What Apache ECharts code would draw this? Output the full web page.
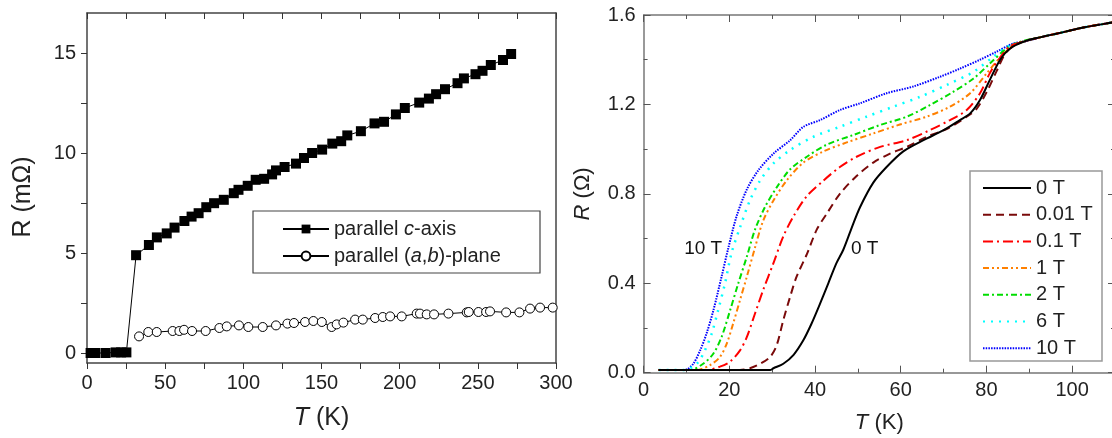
<!DOCTYPE html>
<html>
<head>
<meta charset="utf-8">
<script src="https://cdn.jsdelivr.net/npm/echarts@6/dist/echarts.min.js"></script>
<style>
html,body{margin:0;padding:0;background:#fff;}
#chart{width:1112px;height:438px;}
</style>
</head>
<body>
<div id="chart"></div>
<script>
// ---------- Left panel data: R (mΩ) vs T (K) ----------
const cAxisT = [2.3,5.3,11.9,18.3,21.8,25.2,31.4,39.6,44.7,51,56,62.3,66.9,71.4,76.3,81.3,87.5,93.9,96.9,102.8,107.9,113.3,118.4,120.9,126.4,133.7,138.8,144,150.4,156.9,162.6,166.5,175.2,183.9,190,197.6,203.3,212.5,218.7,223.3,229,237,241.1,248.5,253,258.3,266.1,271.3];
const cAxisR = [0,0,0,0.03,0.03,0.03,4.89,5.4,5.78,5.98,6.27,6.6,6.82,6.99,7.29,7.49,7.66,7.99,8.16,8.36,8.66,8.71,8.93,9.13,9.30,9.47,9.75,10.0,10.17,10.47,10.59,10.88,11.09,11.48,11.56,11.93,12.25,12.52,12.72,12.94,13.19,13.49,13.73,13.94,14.11,14.4,14.65,14.95];
const abPlaneT = [33.3,39.2,44.6,54.8,59.1,62.1,67.2,75.9,84.7,89.4,97.2,103.2,112.4,120.9,128.2,132.4,139.5,144.8,150.2,156.5,159.7,164,171.5,176.4,184.3,189.2,193.9,201.3,210.9,213,217.3,222,231.2,242.9,244.2,250.4,255.3,257.8,268.1,276.6,283.4,289.8,297.9];
const abPlaneR = [0.83,1.05,1.05,1.10,1.10,1.16,1.10,1.10,1.25,1.33,1.38,1.30,1.30,1.38,1.47,1.50,1.55,1.60,1.55,1.30,1.43,1.52,1.67,1.67,1.75,1.80,1.83,1.83,1.97,1.97,1.93,1.93,1.97,2.03,2.05,2.05,2.05,2.08,2.03,2.03,2.22,2.27,2.27];
const leftNames = ['parallel c-axis','parallel (a,b)-plane'];
const leftYLabels = [0,5,10,15];
const leftYTicks = [0,2.5,5,7.5,10,12.5,15];

// ---------- Right panel data: R (Ω) vs T (K), [T, R] ----------
const field0T = [[3.5,0.012],[10,0.012],[20,0.012],[29.5,0.012],[30.3,0.02],[32.6,0.04],[35,0.08],[37.3,0.146],[39.2,0.22],[41.2,0.31],[43.1,0.40],[45,0.49],[46.6,0.55],[48.6,0.65],[50.5,0.74],[53.6,0.85],[56.7,0.92],[60.6,0.99],[65.3,1.04],[70,1.085],[73.8,1.13],[76.2,1.16],[78.5,1.22],[80.8,1.31],[83.2,1.40],[85.5,1.45],[88.6,1.48],[92.5,1.50],[97.2,1.52],[102.6,1.544],[108.9,1.565],[110,1.568]];
const field001T = [[3.5,0.012],[15,0.012],[22.5,0.012],[24.8,0.02],[27.2,0.04],[29.5,0.07],[31,0.12],[32.6,0.235],[34.2,0.34],[35.7,0.43],[38.1,0.53],[40.4,0.64],[42.7,0.71],[45.8,0.80],[49.7,0.88],[53.6,0.94],[57.5,0.98],[61.4,1.01],[66,1.055],[70.7,1.09],[75.4,1.145],[77.7,1.18],[80.1,1.257],[82.4,1.35],[84.7,1.435],[87.8,1.476],[92.5,1.50],[97.2,1.52],[102.6,1.544],[108.9,1.565],[110,1.568]];
const field01T = [[3.5,0.012],[10,0.012],[14.7,0.012],[17.8,0.027],[20.2,0.05],[22.5,0.10],[24.1,0.16],[26,0.265],[27.9,0.37],[30.3,0.49],[32.6,0.61],[35,0.70],[38.1,0.79],[42,0.86],[45.8,0.92],[49.7,0.966],[55.2,1.01],[61.4,1.04],[66.8,1.085],[71.5,1.13],[75.4,1.175],[78.5,1.25],[80.8,1.34],[83.2,1.41],[85.5,1.46],[88.6,1.48],[92.5,1.50],[97.2,1.52],[102.6,1.544],[108.9,1.565],[110,1.568]];
const field1T = [[3.5,0.012],[9,0.012],[12.4,0.012],[15.5,0.034],[17.8,0.07],[19.4,0.13],[20.9,0.22],[22.5,0.325],[24.1,0.43],[26,0.56],[27.9,0.68],[30.3,0.77],[33.4,0.86],[37.3,0.94],[42,0.99],[47.4,1.03],[53.6,1.07],[59.8,1.11],[66,1.145],[71.5,1.19],[76.2,1.25],[80.1,1.34],[83.2,1.41],[86.3,1.465],[88.6,1.48],[92.5,1.50],[97.2,1.52],[102.6,1.544],[108.9,1.565],[110,1.568]];
const field2T = [[3.5,0.012],[8,0.012],[10.8,0.012],[13.9,0.04],[16.3,0.086],[18.2,0.16],[20.2,0.28],[22.1,0.40],[24.1,0.52],[26,0.64],[28.3,0.74],[31.1,0.83],[34.2,0.91],[38.1,0.966],[42.7,1.02],[48.9,1.063],[55.2,1.108],[61.4,1.145],[66.8,1.197],[72.3,1.257],[77,1.316],[80.8,1.383],[84.7,1.45],[87.8,1.48],[92.5,1.50],[97.2,1.52],[102.6,1.544],[108.9,1.565],[110,1.568]];
const field6T = [[3.5,0.012],[7,0.012],[9.3,0.012],[12.4,0.04],[14.3,0.10],[15.9,0.176],[17.4,0.28],[19,0.40],[20.5,0.534],[22.5,0.65],[24.8,0.77],[27.2,0.86],[30.3,0.936],[34.2,0.996],[39.6,1.055],[45.8,1.10],[52,1.145],[58.3,1.19],[64.5,1.234],[70.7,1.287],[77,1.346],[81.6,1.413],[85.5,1.465],[88.6,1.48],[92.5,1.50],[97.2,1.52],[102.6,1.544],[108.9,1.565],[110,1.568]];
const field10T = [[3.5,0.012],[8.5,0.012],[10,0.014],[11.6,0.04],[13.2,0.10],[14.7,0.176],[16.3,0.28],[18.2,0.43],[19.8,0.56],[21.7,0.70],[24.1,0.82],[26.8,0.906],[30.3,0.98],[34.2,1.04],[37.3,1.10],[41.2,1.13],[45.8,1.175],[50.5,1.205],[56.7,1.25],[62.9,1.28],[69.2,1.324],[73.8,1.36],[78.5,1.40],[82.4,1.436],[86.3,1.473],[88.6,1.48],[92.5,1.50],[97.2,1.52],[102.6,1.544],[108.9,1.565],[110,1.568]];
const fieldNames = ['0 T','0.01 T','0.1 T','1 T','2 T','6 T','10 T'];
const fieldData = [field0T, field001T, field01T, field1T, field2T, field6T, field10T];
const curveLabels = [{T:13.9, R:0.556, text:'10 T'},{T:51.6, R:0.556, text:'0 T'}];
const rightXLabels = [0,20,40,60,80,100];

// ---------- styles ----------
const FONT = '"Liberation Sans", Arial, sans-serif';
const fieldStyles = [
  {color:'#000000', width:2, type:'solid'},
  {color:'#7a0a0a', width:2, type:[8,5]},
  {color:'#ff0000', width:2, type:[10,4,2,4]},
  {color:'#ff8000', width:2, type:[6,3,2,3,2,3]},
  {color:'#00dd00', width:2, type:[6,3,2,3]},
  {color:'#00ffff', width:2.5, type:[2,6]},
  {color:'#0000ff', width:2, type:[1.5,1.2]}
];

const zip = (a, b) => a.map((v, i) => [v, b[i]]);

const frameL = {color:'#444', width:1.5};
const frameR = {color:'#777', width:1.5};

const option = {
  animation: false,
  backgroundColor: '#fff',
  textStyle: {fontFamily: FONT},
  grid: [
    {left: 87, top: 13, width: 469, height: 350, outerBoundsMode: 'none', containLabel: false},
    {left: 643.6, top: 15, width: 471.4, height: 357.7, outerBoundsMode: 'none', containLabel: false}
  ],
  xAxis: [
    {gridIndex:0, type:'value', min:0, max:300, interval:50, position:'bottom',
     axisLine:{onZero:false, lineStyle:frameL},
     axisTick:{inside:false, length:6, lineStyle:{color:'#333', width:1}},
     minorTick:{show:true, splitNumber:2, length:6, lineStyle:{color:'#333', width:1}},
     splitLine:{show:false},
     axisLabel:{margin:10, fontSize:20, color:'#222', fontFamily:FONT},
     name:'{i|T} (K)', nameLocation:'middle', nameGap:43,
     nameTextStyle:{fontSize:25, color:'#222', fontFamily:FONT, rich:{i:{fontSize:25, fontStyle:'italic', fontFamily:FONT, color:'#222'}}}},
    {gridIndex:0, type:'value', min:0, max:300, interval:50, position:'top',
     axisLine:{onZero:false, lineStyle:frameL},
     axisTick:{inside:true, length:6, lineStyle:{color:'#333', width:1}},
     minorTick:{show:true, splitNumber:2, length:6, lineStyle:{color:'#333', width:1}},
     splitLine:{show:false}, axisLabel:{show:false}},
    {gridIndex:1, type:'value', min:0, max:110, interval:20, position:'bottom',
     axisLine:{onZero:false, lineStyle:frameR},
     axisTick:{inside:true, length:7, lineStyle:{color:'#555', width:1}},
     minorTick:{show:true, splitNumber:2, length:4, lineStyle:{color:'#555', width:1}},
     splitLine:{show:false},
     axisLabel:{margin:8, fontSize:20, color:'#222', fontFamily:FONT, customValues:rightXLabels},
     name:'{i|T} (K)', nameLocation:'middle', nameGap:39,
     nameTextStyle:{fontSize:22, color:'#222', fontFamily:FONT, rich:{i:{fontSize:22, fontStyle:'italic', fontFamily:FONT, color:'#222'}}}},
    {gridIndex:1, type:'value', min:0, max:110, interval:20, position:'top',
     axisLine:{onZero:false, lineStyle:frameR},
     axisTick:{inside:true, length:7, lineStyle:{color:'#555', width:1}},
     minorTick:{show:true, splitNumber:2, length:4, lineStyle:{color:'#555', width:1}},
     splitLine:{show:false}, axisLabel:{show:false}}
  ],
  yAxis: [
    {gridIndex:0, type:'value', min:-0.5, max:17, position:'left',
     axisLine:{onZero:false, lineStyle:frameL},
     axisTick:{inside:false, length:6, customValues:leftYTicks, lineStyle:{color:'#333', width:1}},
     splitLine:{show:false},
     axisLabel:{margin:11, fontSize:20, color:'#222', fontFamily:FONT, customValues:leftYLabels},
     name:'R (mΩ)', nameLocation:'middle', nameGap:51,
     nameTextStyle:{fontSize:25, color:'#222', fontFamily:FONT, padding:[0,18,0,0]}},
    {gridIndex:0, type:'value', min:-0.5, max:17, position:'right',
     axisLine:{show:true, onZero:false, lineStyle:frameL},
     axisTick:{show:false}, axisLabel:{show:false}, splitLine:{show:false}},
    {gridIndex:1, type:'value', min:0, max:1.6, interval:0.4, position:'left',
     axisLine:{onZero:false, lineStyle:frameR},
     axisTick:{inside:true, length:7, lineStyle:{color:'#555', width:1}},
     minorTick:{show:true, splitNumber:2, length:4, lineStyle:{color:'#555', width:1}},
     splitLine:{show:false},
     axisLabel:{margin:8, fontSize:20, color:'#222', fontFamily:FONT, formatter:v => v.toFixed(1)},
     name:'{i|R} (Ω)', nameLocation:'middle', nameGap:50,
     nameTextStyle:{fontSize:22, color:'#222', fontFamily:FONT, rich:{i:{fontSize:22, fontStyle:'italic', fontFamily:FONT, color:'#222'}}}},
    {gridIndex:1, type:'value', min:0, max:1.6, interval:0.4, position:'right',
     axisLine:{show:true, onZero:false, lineStyle:frameR},
     axisTick:{inside:true, length:7, lineStyle:{color:'#555', width:1}},
     minorTick:{show:true, splitNumber:2, length:4, lineStyle:{color:'#555', width:1}},
     axisLabel:{show:false}, splitLine:{show:false}}
  ],
  legend: [
    {data:leftNames, orient:'vertical', left:282, top:219, padding:0,
     itemWidth:46, itemHeight:11, itemGap:7,
     textStyle:{fontSize:20, lineHeight:20, color:'#222', fontFamily:FONT,
       rich:{n:{fontSize:20, fontFamily:FONT, color:'#222'}, i:{fontSize:20, fontStyle:'italic', fontFamily:FONT, color:'#222'}}},
     formatter: name => name === leftNames[0] ? '{n|parallel }{i|c}{n|-axis}' : '{n|parallel (}{i|a}{n|,}{i|b}{n|)-plane}'},
    {data:fieldNames, orient:'vertical', left:982, top:178, padding:0,
     itemWidth:48, itemHeight:14, itemGap:6.7,
     itemStyle:{opacity:0},
     textStyle:{fontSize:20, lineHeight:20, color:'#222', fontFamily:FONT}}
  ],
  graphic: [
    {type:'rect', shape:{x:253, y:211, width:287, height:62}, style:{fill:'#fff', stroke:'#444', lineWidth:1.2}, z:-1, silent:true},
    {type:'rect', shape:{x:970, y:171, width:132, height:190}, style:{fill:'#fff', stroke:'#999', lineWidth:1.5}, z:-1, silent:true}
  ],
  series: [
    {name:leftNames[0], type:'line', xAxisIndex:0, yAxisIndex:0, data:zip(cAxisT, cAxisR),
     symbol:'rect', symbolSize:10, itemStyle:{color:'#000'}, lineStyle:{color:'#000', width:1}, z:4},
    {name:leftNames[1], type:'line', xAxisIndex:0, yAxisIndex:0, data:zip(abPlaneT, abPlaneR),
     symbol:'circle', symbolSize:9, itemStyle:{color:'#fff', borderColor:'#000', borderWidth:1}, lineStyle:{color:'#000', width:1}, z:3},
    ...fieldNames.map((n, i) => ({
      name:n, type:'line', xAxisIndex:2, yAxisIndex:2, data:fieldData[i],
      symbol:'none', showSymbol:false, smooth:0.3,
      lineStyle:{color:fieldStyles[i].color, width:fieldStyles[i].width, type:fieldStyles[i].type},
      itemStyle:{color:fieldStyles[i].color},
      z: 10 - i
    })),
    {type:'scatter', xAxisIndex:2, yAxisIndex:2, silent:true, symbolSize:0,
     itemStyle:{opacity:1},
     data: curveLabels.map(a => ({value:[a.T, a.R], name:a.text})),
     label:{show:true, position:'inside', formatter:'{b}', fontSize:19, color:'#111', opacity:1, fontFamily:FONT}, z:20}
  ]
};

const chart = echarts.init(document.getElementById('chart'), null, {renderer:'canvas'});
chart.setOption(option);
</script>
</body>
</html>
